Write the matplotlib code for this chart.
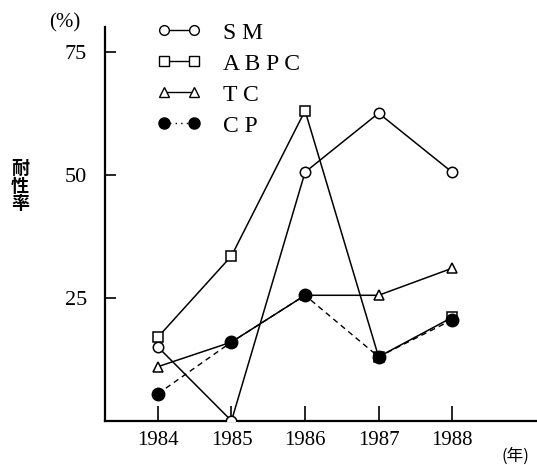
import matplotlib.pyplot as plt
from matplotlib.lines import Line2D

years = [1984, 1985, 1986, 1987, 1988]
sm = [15, 0, 50.5, 62.5, 50.5]
abpc = [17, 33.5, 63, 13, 21]
tc = [11, 16, 25.5, 25.5, 31]
cp = [5.5, 16, 25.5, 13, 20.5]

plt.rcParams['font.family'] = ['Liberation Serif', 'Noto Sans CJK JP']

fig = plt.figure(figsize=(5.37, 4.65), dpi=100)
ax = fig.add_axes([0.1955, 0.095, 0.804, 0.847])

ax.plot(years, sm, '-', color='black', lw=1.1, marker='o', ms=7.5,
        mfc='white', mec='black', mew=1.1, zorder=3)
ax.plot(years, abpc, '-', color='black', lw=1.1, marker='s', ms=7.5,
        mfc='white', mec='black', mew=1.1, zorder=3)
ax.plot(years, tc, '-', color='black', lw=1.1, marker='^', ms=7.5,
        mfc='white', mec='black', mew=1.1, zorder=3)
ax.plot(years, cp, color='black', lw=1.0, ls=(0, (4, 3)), marker='o', ms=9,
        mfc='black', mec='black', zorder=4)

ax.set_xlim(1983.28, 1989.15)
ax.set_ylim(0, 80)
ax.set_xticks(years)
ax.set_yticks([25, 50, 75])
ax.tick_params(axis='both', direction='in', width=1.2)
ax.tick_params(axis='x', length=11, pad=7, labelsize=15)
ax.tick_params(axis='y', length=8, pad=13, labelsize=16)
for s in ['top', 'right']:
    ax.spines[s].set_visible(False)
for s in ['left', 'bottom']:
    ax.spines[s].set_linewidth(1.6)

handles = [
    Line2D([], [], color='black', lw=1.0, marker='o', ms=7, mfc='white', mec='black'),
    Line2D([], [], color='black', lw=1.0, marker='s', ms=7, mfc='white', mec='black'),
    Line2D([], [], color='black', lw=1.0, marker='^', ms=7, mfc='white', mec='black'),
    Line2D([], [], color='black', lw=1.0, ls=(0, (1, 3)), marker='o', ms=8,
           mfc='black', mec='black'),
]
labels = ['S M', 'A B P C', 'T C', 'C P']
ax.legend(handles, labels, loc='upper left', bbox_to_anchor=(0.07, 1.066),
          frameon=False, numpoints=2, handlelength=1.9, handletextpad=0.9,
          labelspacing=0.4, fontsize=17)

fig.text(0.121, 0.95, '(%)', fontsize=15, ha='center', va='center')
fig.text(0.037, 0.6, '耐\n性\n率', fontsize=13, ha='center', va='center',
         family='Noto Sans CJK JP', weight='bold', linespacing=0.9)
fig.text(0.96, 0.02, '(年)', fontsize=12, ha='center', va='center',
         family=['Noto Sans CJK JP'])

fig.savefig('out.png', dpi=100)
